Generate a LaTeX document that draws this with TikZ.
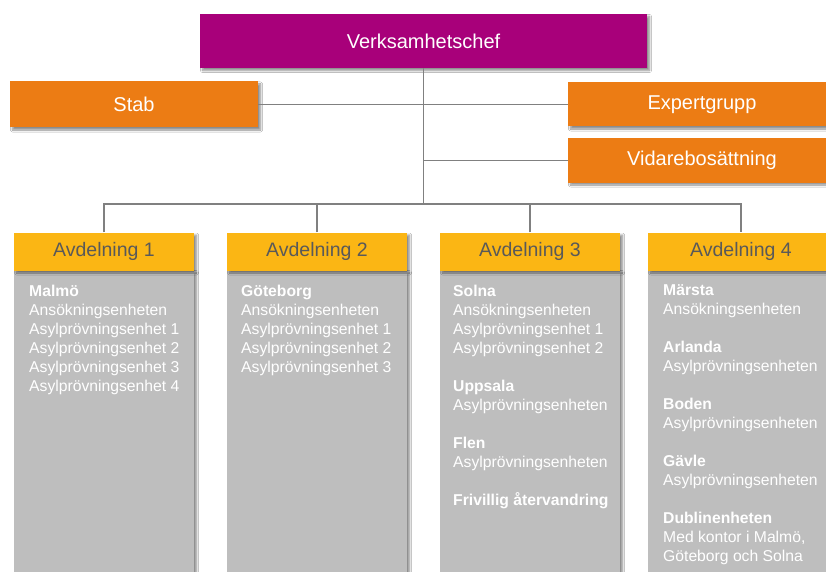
\documentclass[tikz,border=0pt]{standalone}
\usepackage{fontspec}
\setmainfont{Liberation Sans}
\usetikzlibrary{shadows.blur}
\definecolor{chief}{HTML}{A8007A}
\definecolor{staff}{HTML}{EC7C14}
\definecolor{dept}{HTML}{FBB614}
\definecolor{unit}{HTML}{BEBEBE}
\definecolor{linkgray}{HTML}{808080}
\definecolor{depttext}{HTML}{595959}

\begin{document}
\begin{tikzpicture}[x=1pt,y=-1pt,
  boxshadow/.style={blur shadow={shadow xshift=2.5pt,shadow yshift=-2.5pt,
      shadow blur steps=6,shadow blur radius=2pt,shadow opacity=45}},
  topbox/.style={boxshadow, fill=#1, text=white, inner sep=0pt,
      font=\fontsize{20}{24}\selectfont},
  depthead/.style={boxshadow, fill=dept, text=depttext, minimum width=180pt,
      minimum height=38pt, inner sep=0pt, font=\fontsize{19.5}{23}\selectfont},
  deptbody/.style={boxshadow, fill=unit, minimum width=180pt,
      minimum height=330pt, anchor=north, inner sep=0pt},
  unitlist/.style={anchor=north west, align=left, inner sep=0pt, text=white,
      font=\fontsize{15.7}{19}\selectfont},
  link/.style={draw=linkgray, line width=1.3pt}
]
\clip (0,0) rectangle (826,572);
\fill[white] (0,0) rectangle (826,572);

% management level
\node[topbox=chief, minimum width=447pt, minimum height=54pt] (chief) at (423.5,41) {Verksamhetschef};
\node[topbox=staff, minimum width=248pt, minimum height=46pt] (stab) at (134,104.5) {Stab};
\node[topbox=staff, minimum width=268pt, minimum height=44pt] (expert) at (702,104.5) {Expertgrupp};
\node[topbox=staff, minimum width=268pt, minimum height=44pt] (resettle) at (702,160.5) {Vidarebosättning};

% department columns
\node[deptbody] (body1) at (104,270) {};
\node[deptbody] (body2) at (317,270) {};
\node[deptbody] (body3) at (530,270) {};
\node[deptbody, minimum width=186pt] (body4) at (741,270) {};

\node[depthead] (dept1) at (104,251.5) {Avdelning 1};
\node[depthead] (dept2) at (317,251.5) {Avdelning 2};
\node[depthead] (dept3) at (530,251.5) {Avdelning 3};
\node[depthead, minimum width=186pt] (dept4) at (741,251.5) {Avdelning 4};

% connectors
\coordinate (bus) at (chief.south |- 0,204);
\draw[link] (chief.south) -- (bus);
\draw[link] (stab.east) -- (expert.west);
\draw[link] (resettle.west) -- (resettle.west -| chief.south);
\draw[link] (dept1.north) |- (bus) -| (dept4.north);
\draw[link] (dept2.north) -- (dept2.north |- bus);
\draw[link] (dept3.north) -- (dept3.north |- bus);

% unit lists
\node[unitlist] (units1) at (29,284.5) {\textbf{Malmö}\\Ansökningsenheten\\Asylprövningsenhet 1\\Asylprövningsenhet 2\\Asylprövningsenhet 3\\Asylprövningsenhet 4};
\node[unitlist] (units2) at (241,284.5) {\textbf{Göteborg}\\Ansökningsenheten\\Asylprövningsenhet 1\\Asylprövningsenhet 2\\Asylprövningsenhet 3};
\node[unitlist] (units3) at (453,284.5) {\textbf{Solna}\\Ansökningsenheten\\Asylprövningsenhet 1\\Asylprövningsenhet 2\\[19pt]\textbf{Uppsala}\\Asylprövningsenheten\\[19pt]\textbf{Flen}\\Asylprövningsenheten\\[19pt]\textbf{Frivillig återvandring}};
\node[unitlist] (units4) at (663,284.5) {\textbf{Märsta}\\Ansökningsenheten\\[19pt]\textbf{Arlanda}\\Asylprövningsenheten\\[19pt]\textbf{Boden}\\Asylprövningsenheten\\[19pt]\textbf{Gävle}\\Asylprövningsenheten\\[19pt]\textbf{Dublinenheten}\\Med kontor i Malmö,\\Göteborg och Solna};
\end{tikzpicture}
\end{document}
